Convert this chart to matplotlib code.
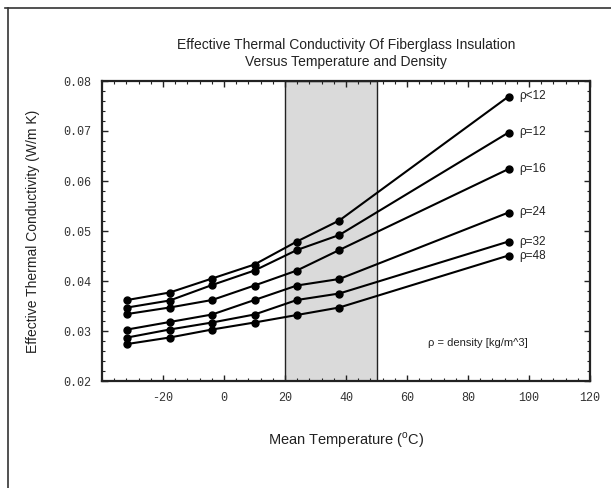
import matplotlib
matplotlib.use("Agg")
import matplotlib.pyplot as plt
from matplotlib.lines import Line2D
from matplotlib.ticker import MultipleLocator

temps = [-31.7, -17.8, -3.9, 10.0, 23.9, 37.8, 93.3]
labels = ["ρ<12", "ρ=12", "ρ=16", "ρ=24", "ρ=32", "ρ=48"]
k_lt12 = [0.0362, 0.0377, 0.0405, 0.0433, 0.0479, 0.0521, 0.0769]
k_12 = [0.0347, 0.0361, 0.0392, 0.0421, 0.0462, 0.0492, 0.0697]
k_16 = [0.0334, 0.0347, 0.0362, 0.0391, 0.0421, 0.0462, 0.0624]
k_24 = [0.0303, 0.0318, 0.0333, 0.0362, 0.0391, 0.0404, 0.0537]
k_32 = [0.0287, 0.0303, 0.0317, 0.0333, 0.0362, 0.0375, 0.0479]
k_48 = [0.0274, 0.0287, 0.0303, 0.0317, 0.0332, 0.0347, 0.0451]
series = [k_lt12, k_12, k_16, k_24, k_32, k_48]
band = (20, 50)

fig = plt.figure(figsize=(6.11, 4.88), dpi=100)
ax = fig.add_axes([102/611, 1-381/488, (590-102)/611, (381-81)/488])

ax.axvspan(band[0], band[1], facecolor="#dadada", edgecolor="#222222", lw=1.0, zorder=0)

for vals, lab in zip(series, labels):
    ax.plot(temps, vals, color="black", lw=1.5, marker="o", ms=5, zorder=3)
    ax.text(temps[-1] + 3.5, vals[-1], lab, fontsize=8.5, family="Liberation Sans",
            va="center", ha="left", color="#222222")

ax.text(67, 0.0276, "ρ = density [kg/m^3]", fontsize=8, family="Liberation Sans",
        va="center", ha="left", color="#222222")

ax.set_xlim(-40, 120)
ax.set_ylim(0.02, 0.08)
ax.xaxis.set_minor_locator(MultipleLocator(4))
ax.yaxis.set_minor_locator(MultipleLocator(0.002))
ax.set_xticks([-20, 0, 20, 40, 60, 80, 100, 120])
ax.set_xticklabels(["-20", "0", "20", "40", "60", "80", "100", "120"])
ax.set_yticks([0.02, 0.03, 0.04, 0.05, 0.06, 0.07, 0.08])
ax.set_yticklabels(["0.02", "0.03", "0.04", "0.05", "0.06", "0.07", "0.08"])
ax.tick_params(which="both", direction="in", top=True, right=True, color="#222222")
ax.tick_params(which="major", length=4, width=1.0, labelsize=8.5, labelcolor="#333333", pad=8)
ax.tick_params(which="minor", length=2, width=0.8)
for lbl in ax.get_xticklabels() + ax.get_yticklabels():
    lbl.set_family("Liberation Mono")
for s in ax.spines.values():
    s.set_linewidth(1.6)
    s.set_color("#222222")

fig.text(346/611, 1-45/488, "Effective Thermal Conductivity Of Fiberglass Insulation",
         ha="center", va="center", fontsize=10, family="Liberation Sans", color="#222222")
fig.text(346/611, 1-62/488, "Versus Temperature and Density",
         ha="center", va="center", fontsize=10, family="Liberation Sans", color="#222222")
fig.text(346/611, 1-440/488, "Mean Temperature ($^{\\mathregular{o}}$C)",
         ha="center", va="center", fontsize=10.5, family="Liberation Sans", color="#222222")
fig.text(33/611, 1-231/488, "Effective Thermal Conductivity (W/m K)", rotation=90,
         ha="center", va="center", fontsize=10, family="Liberation Sans", color="#222222")

fig.add_artist(Line2D([5/611, 1.0], [1-8/488, 1-8/488], color="#333333", lw=1.2))
fig.add_artist(Line2D([8/611, 8/611], [0.0, 1-8/488], color="#333333", lw=1.2))

fig.savefig("out.png", dpi=100)
